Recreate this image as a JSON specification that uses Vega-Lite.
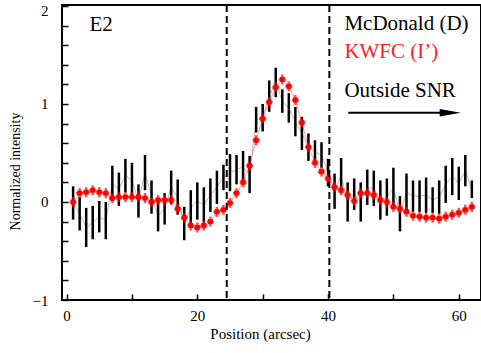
{
  "$schema": "https://vega.github.io/schema/vega-lite/v6.json",
  "width": 419,
  "height": 295,
  "autosize": "none",
  "padding": {"left": 62, "top": 5, "right": 0, "bottom": 53},
  "background": "white",
  "config": {
    "font": "Liberation Serif",
    "view": {"stroke": "black", "strokeWidth": 2},
    "style": {
      "guide-label": {"font": "Liberation Serif", "fill": "black"},
      "guide-title": {"font": "Liberation Serif", "fill": "black"}
    },
    "axis": {
      "domain": false,
      "grid": false,
      "tickColor": "black",
      "tickWidth": 1.5,
      "labelOverlap": false,
      "labelFont": "Liberation Serif",
      "labelFontSize": 15,
      "labelColor": "black",
      "titleFont": "Liberation Serif",
      "titleFontWeight": "normal",
      "titleColor": "black"
    },
    "axisX": {"labelFont": "Liberation Serif", "titleFont": "Liberation Serif"},
    "axisY": {"labelFont": "Liberation Serif", "titleFont": "Liberation Serif"}
  },
  "datasets": {
    "red": [
      {"x":1,"y":0.0},{"x":2,"y":0.09},{"x":3,"y":0.1},{"x":4,"y":0.12},{"x":5,"y":0.1},{"x":6,"y":0.09},{"x":7,"y":0.04},{"x":8,"y":0.05},{"x":9,"y":0.05},{"x":10,"y":0.05},
      {"x":11,"y":0.05},{"x":12,"y":0.04},{"x":13,"y":0.0},{"x":14,"y":0.02},{"x":15,"y":0.02},{"x":16,"y":0.02},{"x":17,"y":-0.07},{"x":18,"y":-0.16},{"x":19,"y":-0.24},{"x":20,"y":-0.26},
      {"x":21,"y":-0.24},{"x":22,"y":-0.2},{"x":23,"y":-0.1},{"x":24,"y":-0.08},{"x":25,"y":-0.01},{"x":26,"y":0.09},{"x":27,"y":0.2},{"x":28,"y":0.37},{"x":29,"y":0.63},{"x":30,"y":0.85},
      {"x":31,"y":1.02},{"x":32,"y":1.17},{"x":33,"y":1.25},{"x":34,"y":1.18},{"x":35,"y":1.04},{"x":36,"y":0.81},{"x":37,"y":0.56},{"x":38,"y":0.4},{"x":39,"y":0.31},{"x":40,"y":0.24},
      {"x":41,"y":0.15},{"x":42,"y":0.12},{"x":43,"y":0.07},{"x":44,"y":0.01},{"x":45,"y":0.09},{"x":46,"y":0.09},{"x":47,"y":0.07},{"x":48,"y":0.02},{"x":49,"y":0.0},{"x":50,"y":-0.05},
      {"x":51,"y":-0.07},{"x":52,"y":-0.1},{"x":53,"y":-0.14},{"x":54,"y":-0.15},{"x":55,"y":-0.16},{"x":56,"y":-0.16},{"x":57,"y":-0.17},{"x":58,"y":-0.15},{"x":59,"y":-0.13},{"x":60,"y":-0.11},
      {"x":61,"y":-0.08},{"x":62,"y":-0.05}
    ],
    "black": [
      {"x":1,"y":-0.01,"e":0.17},{"x":2,"y":-0.12,"e":0.17},{"x":3,"y":-0.26,"e":0.2},{"x":4,"y":-0.21,"e":0.17},{"x":5,"y":-0.15,"e":0.16},{"x":6,"y":-0.19,"e":0.19},{"x":7,"y":0.19,"e":0.18},{"x":8,"y":0.13,"e":0.17},{"x":9,"y":0.27,"e":0.17},{"x":10,"y":0.22,"e":0.18},
      {"x":11,"y":0.01,"e":0.17},{"x":12,"y":0.3,"e":0.18},{"x":13,"y":0.05,"e":0.17},{"x":14,"y":-0.14,"e":0.16},{"x":15,"y":-0.07,"e":0.16},{"x":16,"y":0.15,"e":0.17},{"x":17,"y":0.05,"e":0.18},{"x":18,"y":-0.22,"e":0.17},{"x":19,"y":-0.06,"e":0.18},{"x":20,"y":0.01,"e":0.19},
      {"x":21,"y":-0.03,"e":0.18},{"x":22,"y":0.07,"e":0.17},{"x":23,"y":0.15,"e":0.17},{"x":24,"y":0.25,"e":0.13},{"x":25,"y":0.3,"e":0.19},{"x":26,"y":0.33,"e":0.15},{"x":27,"y":0.36,"e":0.16},{"x":28,"y":0.28,"e":0.19},{"x":29,"y":0.84,"e":0.13},{"x":30,"y":0.86,"e":0.14},
      {"x":31,"y":1.08,"e":0.16},{"x":32,"y":1.22,"e":0.15},{"x":33,"y":1.03,"e":0.12},{"x":34,"y":0.96,"e":0.15},{"x":35,"y":0.82,"e":0.15},{"x":36,"y":0.7,"e":0.17},{"x":37,"y":0.56,"e":0.14},{"x":38,"y":0.51,"e":0.12},{"x":39,"y":0.48,"e":0.13},{"x":40,"y":0.3,"e":0.14},
      {"x":41,"y":0.11,"e":0.18},{"x":42,"y":0.27,"e":0.18},{"x":43,"y":0.0,"e":0.2},{"x":44,"y":0.08,"e":0.16},{"x":45,"y":0.0,"e":0.2},{"x":46,"y":0.15,"e":0.18},{"x":47,"y":0.14,"e":0.18},{"x":48,"y":0.02,"e":0.2},{"x":49,"y":0.05,"e":0.19},{"x":50,"y":0.15,"e":0.2},
      {"x":51,"y":-0.12,"e":0.18},{"x":52,"y":0.1,"e":0.19},{"x":53,"y":0.06,"e":0.16},{"x":54,"y":0.06,"e":0.16},{"x":55,"y":0.07,"e":0.18},{"x":56,"y":0.02,"e":0.13},{"x":57,"y":0.05,"e":0.17},{"x":58,"y":0.18,"e":0.19},{"x":59,"y":0.26,"e":0.19},{"x":60,"y":0.19,"e":0.17},
      {"x":61,"y":0.32,"e":0.16},{"x":62,"y":0.13,"e":0.09}
    ],
    "vlines": [{"x": 24.5}, {"x": 40.2}],
    "blacktext": [
      {"x": 3.5, "y": 1.745, "t": "E2"},
      {"x": 42.5, "y": 1.755, "t": "McDonald (D)"},
      {"x": 42.5, "y": 1.07, "t": "Outside SNR"}
    ],
    "redtext": [{"x": 42.5, "y": 1.47, "t": "KWFC (I’)"}],
    "arrow": [{"x": 43.1, "x2": 58.0, "y": 0.91}],
    "arrowhead": [{"x": 58.7, "y": 0.91}]
  },
  "layer": [
    {
      "data": {"name": "black"},
      "mark": {"type": "line", "color": "#777777", "strokeWidth": 1, "opacity": 0.5},
      "encoding": {
        "x": {"field": "x", "type": "quantitative", "title": "Position (arcsec)", "scale": {"domain": [-0.7, 63.4], "nice": false, "zero": false},
              "axis": {"orient": "bottom", "tickCount": 7, "labelOverlap": false, "labelFont": "Liberation Serif", "labelExpr": "abs(datum.value % 20) < 0.001 ? format(datum.value, 'd') : ''", "tickSize": -6, "labelPadding": 14, "titleFont": "Liberation Serif", "titleFontSize": 15, "titleX": 198, "titleY": 38, "titleBaseline": "alphabetic", "titleAnchor": null}},
        "y": {"field": "y", "type": "quantitative", "title": "Normalized intensity", "scale": {"domain": [-1, 2.01], "nice": false, "zero": false},
              "axis": {"orient": "left", "tickCount": 15, "labelOverlap": false, "labelFont": "Liberation Serif", "labelExpr": "abs(datum.value - round(datum.value)) < 0.001 ? format(datum.value, 'd') : ''", "labelOffset": {"condition": {"test": "datum.value > 1.99", "value": 5}, "value": 0}, "tickSize": -6, "labelPadding": 20, "titleFont": "Liberation Serif", "titleFontSize": 14, "titleX": -47, "titleY": 166, "titleBaseline": "middle", "titleAlign": "center", "titleAngle": -90}}
      }
    },
    {
      "data": {"name": "red"},
      "mark": {"type": "line", "color": "#ff4040", "strokeWidth": 1, "opacity": 0.5},
      "encoding": {
        "x": {"field": "x", "type": "quantitative", "title": "Position (arcsec)"},
        "y": {"field": "y", "type": "quantitative", "title": "Normalized intensity"}
      }
    },
    {
      "data": {"name": "black"},
      "mark": {"type": "errorbar", "color": "black", "thickness": 2.5},
      "encoding": {
        "x": {"field": "x", "type": "quantitative", "title": "Position (arcsec)"},
        "y": {"field": "y", "type": "quantitative", "title": "Normalized intensity"},
        "yError": {"field": "e"}
      }
    },
    {
      "data": {"name": "red"},
      "mark": {"type": "tick", "color": "red", "orient": "horizontal", "size": 7, "thickness": 2.5},
      "encoding": {
        "x": {"field": "x", "type": "quantitative", "title": "Position (arcsec)"},
        "y": {"field": "y", "type": "quantitative", "title": "Normalized intensity"}
      }
    },
    {
      "data": {"name": "red"},
      "mark": {"type": "tick", "color": "red", "orient": "vertical", "size": 10, "thickness": 2.5},
      "encoding": {
        "x": {"field": "x", "type": "quantitative", "title": "Position (arcsec)"},
        "y": {"field": "y", "type": "quantitative", "title": "Normalized intensity"}
      }
    },
    {
      "data": {"name": "red"},
      "mark": {"type": "point", "shape": "square", "filled": true, "color": "red", "size": 25, "opacity": 1},
      "encoding": {
        "x": {"field": "x", "type": "quantitative", "title": "Position (arcsec)"},
        "y": {"field": "y", "type": "quantitative", "title": "Normalized intensity"}
      }
    },
    {
      "data": {"name": "vlines"},
      "mark": {"type": "rule", "color": "black", "strokeWidth": 2, "strokeDash": [7, 4]},
      "encoding": {
        "x": {"field": "x", "type": "quantitative", "title": "Position (arcsec)"}
      }
    },
    {
      "data": {"name": "blacktext"},
      "mark": {"type": "text", "font": "Liberation Serif", "fontSize": 21, "color": "black", "align": "left", "baseline": "alphabetic"},
      "encoding": {
        "x": {"field": "x", "type": "quantitative", "title": "Position (arcsec)"},
        "y": {"field": "y", "type": "quantitative", "title": "Normalized intensity"},
        "text": {"field": "t"}
      }
    },
    {
      "data": {"name": "redtext"},
      "mark": {"type": "text", "font": "Liberation Serif", "fontSize": 21, "color": "#ff2020", "align": "left", "baseline": "alphabetic"},
      "encoding": {
        "x": {"field": "x", "type": "quantitative", "title": "Position (arcsec)"},
        "y": {"field": "y", "type": "quantitative", "title": "Normalized intensity"},
        "text": {"field": "t"}
      }
    },
    {
      "data": {"name": "arrow"},
      "mark": {"type": "rule", "color": "black", "strokeWidth": 2},
      "encoding": {
        "x": {"field": "x", "type": "quantitative", "title": "Position (arcsec)"},
        "x2": {"field": "x2"},
        "y": {"field": "y", "type": "quantitative", "title": "Normalized intensity"}
      }
    },
    {
      "data": {"name": "arrowhead"},
      "mark": {"type": "point", "shape": "M -1 -0.35 L 1 0 L -1 0.35 Z", "filled": true, "color": "black", "size": 450, "opacity": 1},
      "encoding": {
        "x": {"field": "x", "type": "quantitative", "title": "Position (arcsec)"},
        "y": {"field": "y", "type": "quantitative", "title": "Normalized intensity"}
      }
    }
  ]
}
